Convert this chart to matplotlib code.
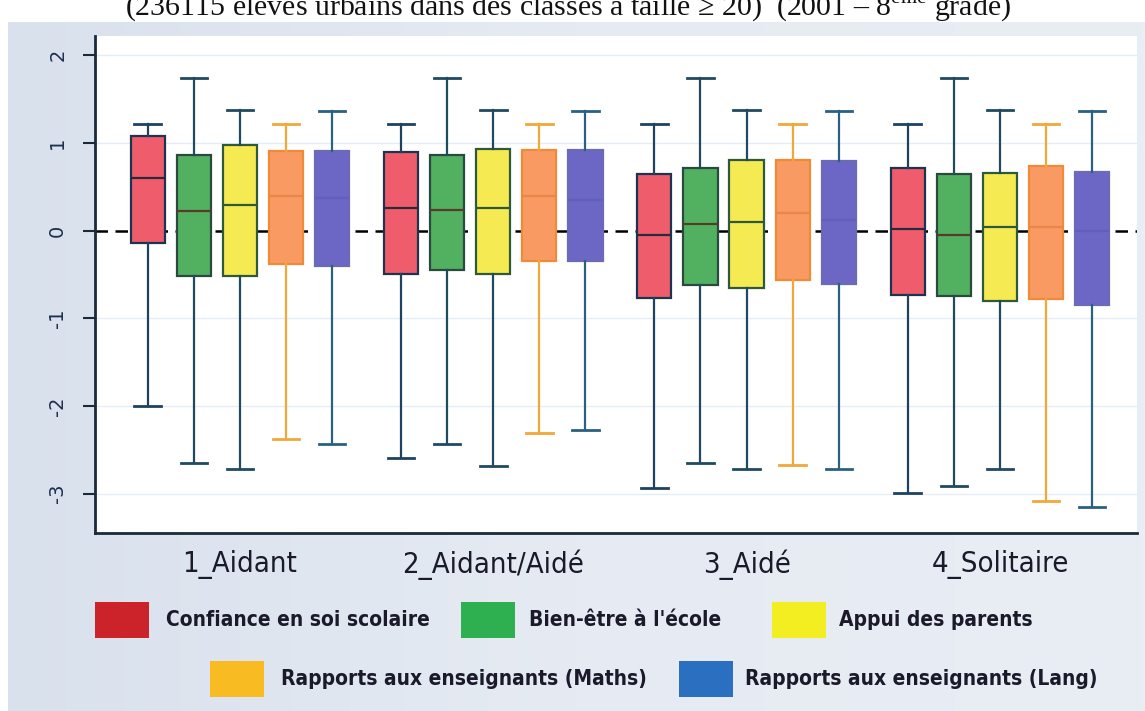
import numpy as np
import matplotlib
matplotlib.use('Agg')
import matplotlib.pyplot as plt
from matplotlib.patches import Rectangle
from matplotlib.colors import LinearSegmentedColormap

plt.rcParams['mathtext.fontset'] = 'custom'
plt.rcParams['mathtext.rm'] = 'Liberation Serif'

groups = ['1_Aidant', '2_Aidant/Aidé', '3_Aidé', '4_Solitaire']
series = ['Confiance en soi scolaire', "Bien-être à l'école", 'Appui des parents',
          'Rapports aux enseignants (Maths)', 'Rapports aux enseignants (Lang)']

# one list per series, one value per group
whis_lo = [[-2.00, -2.60, -2.94, -2.99],
           [-2.65, -2.43, -2.65, -2.91],
           [-2.72, -2.69, -2.72, -2.72],
           [-2.38, -2.31, -2.67, -3.08],
           [-2.43, -2.27, -2.72, -3.15]]
q1 = [[-0.14, -0.49, -0.77, -0.73],
      [-0.52, -0.45, -0.62, -0.75],
      [-0.52, -0.50, -0.66, -0.80],
      [-0.38, -0.35, -0.56, -0.78],
      [-0.40, -0.35, -0.61, -0.85]]
med = [[0.60, 0.26, -0.05, 0.02],
       [0.22, 0.24, 0.075, -0.05],
       [0.29, 0.26, 0.10, 0.04],
       [0.39, 0.39, 0.20, 0.045],
       [0.37, 0.35, 0.12, 0.00]]
q3 = [[1.075, 0.90, 0.64, 0.71],
      [0.86, 0.86, 0.71, 0.64],
      [0.98, 0.93, 0.81, 0.66],
      [0.91, 0.92, 0.81, 0.74],
      [0.91, 0.92, 0.79, 0.67]]
whis_hi = [[1.22, 1.22, 1.22, 1.22],
           [1.74, 1.74, 1.74, 1.74],
           [1.38, 1.38, 1.38, 1.38],
           [1.22, 1.22, 1.22, 1.22],
           [1.37, 1.37, 1.37, 1.37]]

box_fill = ['#ef5d6c', '#52b061', '#f5ea52', '#f89a62', '#6c66c4']
box_edge = ['#1d3450', '#2a4a40', '#2e5a3a', '#f08a38', '#6a6ab8']
whisk_col = ['#1f4260', '#1f4a60', '#1f4a60', '#f0a838', '#2a6080']
med_col = ['#2a2a3a', '#5a3a2a', '#2e5a3a', '#e8874a', '#6060b8']
leg_col = ['#cc2229', '#2eb050', '#f2ee22', '#f8bc22', '#2a6fc0']

narrow = dict(family='DejaVu Sans', stretch='condensed')

W, H = 1145, 711
fig = plt.figure(figsize=(W / 100, H / 100), dpi=100)
fig.patch.set_facecolor('white')

# grey-blue panel behind everything
bg = fig.add_axes([8 / W, 0, 1 - 8 / W, 1 - 22 / H], zorder=-10)
grad = np.linspace(0, 1, 256).reshape(1, -1)
cm = LinearSegmentedColormap.from_list('bgc', ['#d9e1ed', '#e6ebf3', '#e9eef5'])
bg.imshow(grad, aspect='auto', cmap=cm, extent=[0, 1, 0, 1])
bg.axis('off')

ax = fig.add_axes([95 / W, 1 - 533 / H, (1137 - 95) / W, (533 - 36) / H])
ax.set_facecolor('white')

spacing = 0.182
for s in range(len(series)):
    stats = []
    for g in range(len(groups)):
        stats.append({'whislo': whis_lo[s][g], 'q1': q1[s][g], 'med': med[s][g],
                      'q3': q3[s][g], 'whishi': whis_hi[s][g], 'fliers': []})
    pos = np.arange(len(groups)) + (s - 2) * spacing
    ax.bxp(stats, positions=pos, widths=0.135, capwidths=0.105, patch_artist=True,
           showfliers=False, manage_ticks=False,
           boxprops=dict(facecolor=box_fill[s], edgecolor=box_edge[s], linewidth=1.6),
           whiskerprops=dict(color=whisk_col[s], linewidth=1.6),
           capprops=dict(color=whisk_col[s], linewidth=2.0),
           medianprops=dict(color=med_col[s], linewidth=1.6))

ax.axhline(0, color='black', ls=(0, (5, 3)), lw=1.8, zorder=0.5)
for yv in [-3, -2, -1, 1, 2]:
    ax.axhline(yv, color='#e4edf5', lw=1.0, zorder=0.3)

ax.set_xlim(-0.572, 3.541)
ax.set_ylim(-3.45, 2.22)
ax.set_yticks([-3, -2, -1, 0, 1, 2])
ax.set_yticklabels(['-3', '-2', '-1', '0', '1', '2'], rotation=90, va='center',
                   fontsize=14, color='#1a3050')
ax.tick_params(axis='y', length=9, width=1.5, color='#1a2a3a', pad=11)
ax.set_xticks(np.arange(len(groups)))
ax.set_xticklabels(groups, fontsize=21, color='#1a1a2a', **narrow)
ax.tick_params(axis='x', length=0, pad=12)
for side in ['top', 'right']:
    ax.spines[side].set_visible(False)
for side in ['left', 'bottom']:
    ax.spines[side].set_color('#1a2a3a')
    ax.spines[side].set_linewidth(2)

# title cut by the top edge of the picture
fig.text(125 / W, 1 - 16 / H,
         '(236115 élèves urbains dans des classes à taille ≥ 20)  (2001 – 8$^{\\mathrm{ème}}$ grade)',
         fontsize=21.5, family=['Liberation Serif', 'DejaVu Serif'], va='baseline', color='#111111')

# legend, two rows
leg_patch_x = [95, 461, 772, 210, 679]
leg_text_x = [166, 529, 839, 281, 745]
leg_y = [620, 620, 620, 679, 679]
for i in range(len(series)):
    fig.add_artist(Rectangle((leg_patch_x[i] / W, 1 - (leg_y[i] + 18) / H), 54 / W, 36 / H,
                             transform=fig.transFigure, facecolor=leg_col[i],
                             edgecolor='none'))
    fig.text(leg_text_x[i] / W, 1 - leg_y[i] / H, series[i], fontsize=15, fontweight='bold',
             va='center', color='#1a1a2a', **narrow)

fig.savefig('out.png', dpi=100)
